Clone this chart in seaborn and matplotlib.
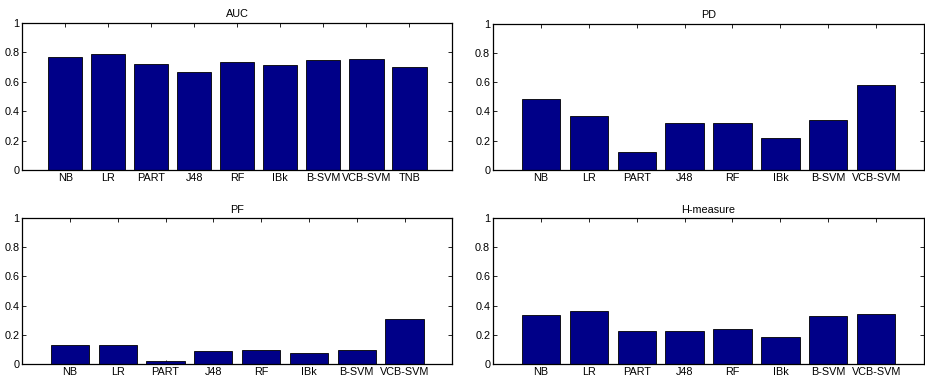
import numpy as np
import pandas as pd
import matplotlib
matplotlib.use('Agg')
import matplotlib.pyplot as plt
import seaborn as sns

# ── data ────────────────────────────────────────────────────
models_9 = ['NB', 'LR', 'PART', 'J48', 'RF', 'IBk', 'B-SVM', 'VCB-SVM', 'TNB']
models_8 = ['NB', 'LR', 'PART', 'J48', 'RF', 'IBk', 'B-SVM', 'VCB-SVM']

auc      = [0.770, 0.789, 0.723, 0.668, 0.734, 0.711, 0.750, 0.757, 0.698]
pd_vals  = [0.484, 0.366, 0.120, 0.320, 0.320, 0.220, 0.341, 0.584]
pf_vals  = [0.132, 0.128, 0.020, 0.089, 0.094, 0.075, 0.094, 0.306]
h_meas   = [0.333, 0.361, 0.224, 0.224, 0.242, 0.187, 0.331, 0.340]

panels = [
    ('AUC',       models_9, auc,     [0.024, 0.555, 0.465, 0.385]),
    ('PD',        models_8, pd_vals, [0.533, 0.555, 0.466, 0.383]),
    ('PF',        models_8, pf_vals, [0.024, 0.047, 0.465, 0.382]),
    ('H-measure', models_8, h_meas,  [0.533, 0.047, 0.466, 0.382]),
]

sns.set_style('ticks')
plt.rcParams['font.family'] = ['Liberation Sans', 'DejaVu Sans']
plt.rcParams['font.size'] = 7.8
plt.rcParams['text.color'] = 'black'
plt.rcParams['xtick.color'] = 'black'
plt.rcParams['ytick.color'] = 'black'
plt.rcParams['axes.titlecolor'] = 'black'

fig = plt.figure(figsize=(9.25, 3.82), dpi=100)

for title, names, vals, rect in panels:
    ax = fig.add_axes(rect)
    df = pd.DataFrame({'model': names, 'value': vals})
    sns.barplot(data=df, x='model', y='value', ax=ax, color='#000088',
                saturation=1, width=0.8, edgecolor='black', linewidth=0.6)
    n = len(names)
    ax.set_xlim(-1, n)
    ax.set_ylim(0, 1)
    ax.set_yticks(np.arange(0, 1.01, 0.2))
    ax.set_yticklabels(['0', '0.2', '0.4', '0.6', '0.8', '1'])
    ax.set_xlabel('')
    ax.set_ylabel('')
    ax.set_title(title, fontsize=7.8, pad=4, color='black')
    ax.tick_params(direction='in', length=3, width=0.6, top=True,
                   right=True, labelsize=7.8, pad=2, colors='black')
    for sp in ax.spines.values():
        sp.set_visible(True)
        sp.set_linewidth(0.9)
        sp.set_color('black')

fig.savefig('out.png', dpi=100)
